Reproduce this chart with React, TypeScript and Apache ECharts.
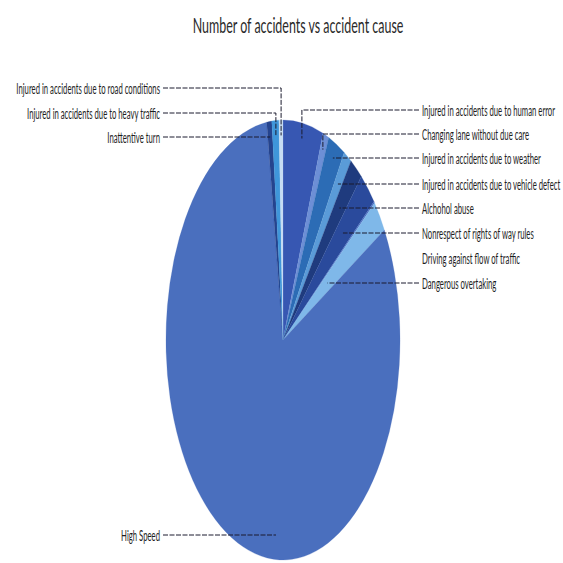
import React, { useEffect, useRef } from "react";
import * as echarts from "echarts";

// ---- data (clockwise from 12 o'clock) ----
const categories = [
  "Injured in accidents due to human error",
  "Changing lane without due care",
  "Injured in accidents due to weather",
  "Injured in accidents due to vehicle defect",
  "Alchohol abuse",
  "Nonrespect of rights of way rules",
  "Driving against flow of traffic",
  "Dangerous overtaking",
  "High Speed",
  "Inattentive turn",
  "Injured in accidents due to heavy traffic",
  "Injured in accidents due to road conditions",
];
const accidents = [200, 30, 85, 40, 65, 90, 5, 85, 2920, 25, 35, 20];
const titleText = "Number of accidents vs accident cause";

// ---- styling / layout ----
const sliceColors = [
  "#3757b2", "#6d8fd6", "#2c6cb5", "#5a9bd8", "#1f3b7e", "#2a4a9c",
  "#4d6fc2", "#7fb8e9", "#4a6fbe", "#25448e", "#3f96da", "#c6dcf3",
];
// label placement: side, row y, optional fixed leader end x, leader on/off
const labelLayout = [
  { side: "right", y: 110 },
  { side: "right", y: 134 },
  { side: "right", y: 158 },
  { side: "right", y: 184 },
  { side: "right", y: 208 },
  { side: "right", y: 233 },
  { side: "right", y: 258, noLine: true },
  { side: "right", y: 283 },
  { side: "left", y: 535, endX: 276 },
  { side: "left", y: 137 },
  { side: "left", y: 113 },
  { side: "left", y: 88 },
];

const CX = 283;
const CY = 340;
const RX = 117;
const RY = 220;
const TEXT_SX = 0.515;
const RIGHT_TEXT_X = 422;
const LEFT_TEXT_X = 160;
const FONT = "Lato, 'Open Sans', sans-serif";

const total = accidents.reduce((a, b) => a + b, 0);
const cumStart: number[] = [];
accidents.reduce((acc, v, i) => {
  cumStart[i] = acc;
  return acc + v;
}, 0);

function leaderPoints(midDeg: number, y: number): number[][] {
  const t = (midDeg * Math.PI) / 180;
  const s = Math.sin(t);
  const c = Math.cos(t);
  const v = (CY - y) / RY;
  if (Math.abs(c) > 0.05) {
    const r = v / c;
    if (r > 0 && r <= 0.95) return [[CX + r * s * RX, y]];
  }
  const r = 0.93;
  const ex = CX + r * s * RX;
  const ey = CY - r * c * RY;
  return [
    [ex, y],
    [ex, ey],
  ];
}

export default function App() {
  const ref = useRef<HTMLDivElement>(null);
  useEffect(() => {
    if (!ref.current) return;
    const chart = echarts.init(ref.current, undefined, { renderer: "svg" });
    chart.setOption({
      animation: false,
      backgroundColor: "#ffffff",
      graphic: [
        {
          type: "text",
          x: 298,
          y: 24,
          scaleX: 0.566,
          style: {
            text: titleText,
            fontSize: 22,
            fontFamily: FONT,
            fill: "#2a2a2a",
            align: "center",
            verticalAlign: "middle",
            textAlign: "center",
            textVerticalAlign: "middle",
          },
        },
      ],
      series: [
        {
          type: "custom",
          coordinateSystem: "none",
          data: accidents.map((v) => [v]),
          renderItem: (params: any, api: any) => {
            const i = params.dataIndex;
            const val = api.value(0) as number;
            const a0 = (cumStart[i] / total) * 360;
            const a1 = a0 + (val / total) * 360;
            const mid = (a0 + a1) / 2;
            const children: any[] = [
              {
                type: "sector",
                x: CX,
                y: CY,
                scaleX: RX / RY,
                shape: {
                  cx: 0,
                  cy: 0,
                  r: RY,
                  r0: 0,
                  startAngle: ((a0 - 90) * Math.PI) / 180,
                  endAngle: ((a1 - 90) * Math.PI) / 180,
                  clockwise: true,
                },
                style: { fill: sliceColors[i], stroke: sliceColors[i], lineWidth: 0.3 },
                z2: 1,
              },
            ];
            const lay: any = labelLayout[i];
            const right = lay.side === "right";
            const tx = right ? RIGHT_TEXT_X : LEFT_TEXT_X;
            children.push({
              type: "text",
              x: tx,
              y: lay.y,
              scaleX: TEXT_SX,
              z2: 20,
              style: {
                text: categories[i],
                fontSize: 15,
                fontFamily: FONT,
                fill: "#1e1e1e",
                align: right ? "left" : "right",
                verticalAlign: "middle",
              },
            });
            if (!lay.noLine) {
              const startX = right ? tx - 3 : tx + 3;
              const pts = lay.endX
                ? [[startX, lay.y], [lay.endX, lay.y]]
                : [[startX, lay.y], ...leaderPoints(mid, lay.y)];
              children.push({
                type: "polyline",
                z2: 30,
                shape: { points: pts },
                style: {
                  stroke: "#1b1b2e",
                  lineWidth: 1,
                  lineDash: [5, 1.5],
                  fill: null,
                },
              });
            }
            return { type: "group", children };
          },
        },
      ],
    });
    return () => chart.dispose();
  }, []);
  return (
    <div
      ref={ref}
      style={{ position: "fixed", left: 0, top: 0, width: 563, height: 563 }}
    />
  );
}
